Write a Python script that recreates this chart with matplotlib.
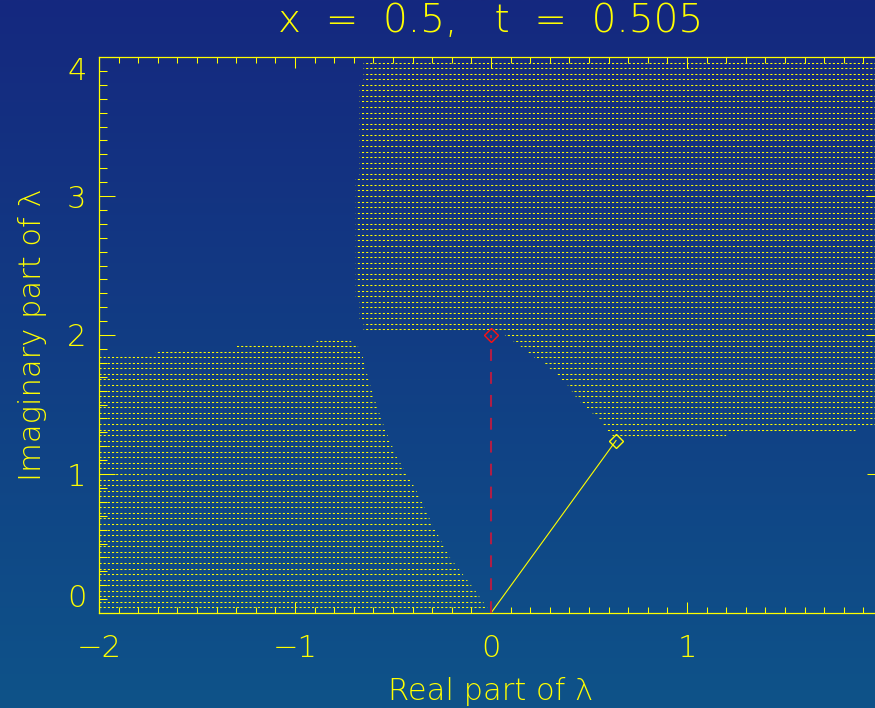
import numpy as np
import matplotlib
matplotlib.use("Agg")
import matplotlib.pyplot as plt
from matplotlib.patches import Polygon
from matplotlib.ticker import MultipleLocator
from matplotlib.colors import LinearSegmentedColormap

plt.rcParams["lines.scale_dashes"] = False
plt.rcParams["font.family"] = ["DejaVu Sans"]
plt.rcParams["font.weight"] = "ultralight"
plt.rcParams["axes.titleweight"] = "ultralight"
plt.rcParams["axes.labelweight"] = "ultralight"

# Boundaries of the hatched regions in the complex lambda plane
# (real part, imaginary part)
left_x = [-2.02, -0.01, -0.02, -0.08, -0.21, -0.30, -0.38, -0.48, -0.54,
          -0.60, -0.64, -0.66, -0.68, -0.72, -0.72, -0.89, -0.89, -1.30,
          -1.30, -1.71, -1.71, -2.02]
left_y = [0.02, 0.02, 0.04, 0.16, 0.40, 0.64, 0.88, 1.12, 1.32,
          1.56, 1.76, 1.88, 1.92, 1.96, 1.98, 1.98, 1.94, 1.94,
          1.90, 1.90, 1.86, 1.86]

upper_x = [-0.65, -0.65, -0.67, -0.67, -0.69, -0.69, -0.67, -0.67, -0.65,
           -0.65, 0.05, 0.07, 0.15, 0.22, 0.27, 0.33, 0.39, 0.43, 0.48,
           0.55, 0.59, 0.62, 0.62, 1.20, 1.20, 1.86, 1.86, 2.05, 2.05]
upper_y = [3.98, 3.82, 3.82, 3.14, 3.14, 2.26, 2.26, 2.10, 2.10,
           2.02, 2.02, 2.00, 1.92, 1.84, 1.80, 1.72, 1.64, 1.56, 1.48,
           1.40, 1.32, 1.28, 1.26, 1.26, 1.30, 1.30, 1.34, 1.34, 3.98]

row_step = 0.04   # spacing of the hatch rows

# marked eigenvalues
lam_red = (0.0, 2.0)
lam_yellow = (0.638, 1.241)

title = "x  =  0.5,   t  =  0.505"
xticks = [-2, -1, 0, 1, 2]
xticklabels = ["\u22122", "\u22121", "0", "1", ""]
yticks = [0, 1, 2, 3, 4]

yellow = "#ffff00"
red = "#b01e46"

fig = plt.figure(figsize=(8.75, 7.08), dpi=100)

# background gradient over the whole figure
bg = fig.add_axes([0, 0, 1, 1])
cmap = LinearSegmentedColormap.from_list("bg", ["#15287f", "#0e5389"])
bg.imshow(np.linspace(0, 1, 256).reshape(-1, 1), aspect="auto", cmap=cmap,
          extent=[0, 1, 0, 1], origin="upper")
bg.axis("off")

# plot box runs past the right edge of the image (x = 2 is clipped)
ax = fig.add_axes([99 / 875, 95 / 708, 784 / 875, 556 / 708])
ax.patch.set_visible(False)
ax.set_xlim(-2, 2)
ax.set_ylim(0, 4)

rows = np.arange(1, 100) * row_step
for xs, ys in [(left_x, left_y), (upper_x, upper_y)]:
    clip = Polygon(np.column_stack([xs, ys]), closed=True,
                   transform=ax.transData)
    lc = ax.hlines(rows, -2, 2.05, colors=yellow, linewidth=0.75,
                   linestyles=[(0, (1.5, 1.5))])
    lc.set_clip_path(clip)

# path to the yellow eigenvalue and the dashed line to the red one
ax.plot([0, lam_yellow[0]], [0, lam_yellow[1]], color=yellow, lw=0.8)
ax.plot([0, lam_red[0]], [0, lam_red[1]], color=red, lw=1.5, dashes=(8.5, 8))
ax.plot(*lam_yellow, marker="D", ms=7, mfc="none", mec=yellow, mew=1)
ax.plot(*lam_red, marker="D", ms=7, mfc="none", mec="#ff1010", mew=1)

for s in ax.spines.values():
    s.set_color(yellow)
    s.set_linewidth(0.9)

ax.set_xticks(xticks)
ax.set_xticklabels(xticklabels)
ax.set_yticks(yticks)
ax.xaxis.set_minor_locator(MultipleLocator(0.1))
ax.yaxis.set_minor_locator(MultipleLocator(0.1))
ax.tick_params(which="both", direction="in", top=True, right=True,
               colors=yellow, width=0.75, labelsize=22, labelcolor=yellow)
ax.tick_params(axis="x", which="major", length=7.9, pad=15)
ax.tick_params(axis="x", which="minor", length=4.3)
ax.tick_params(axis="y", which="major", length=11.5, pad=9)
ax.tick_params(axis="y", which="minor", length=5.8)

ylabs = ax.get_yticklabels()
ylabs[0].set_va("bottom")
ylabs[-1].set_va("top")

ax.set_xlabel("Real part of \u03bb", fontsize=22, color=yellow, va="baseline")
ax.xaxis.set_label_coords(0.5, (613 - 700) / 556)
ax.set_ylabel("Imaginary part of \u03bb", fontsize=22, color=yellow,
              va="center")
ax.yaxis.set_label_coords((33 - 99) / 784, 0.5)

ax.set_title(title, y=(613 - 40) / 556, va="baseline", fontsize=28,
             color=yellow)

fig.savefig("out.png", dpi=100)
